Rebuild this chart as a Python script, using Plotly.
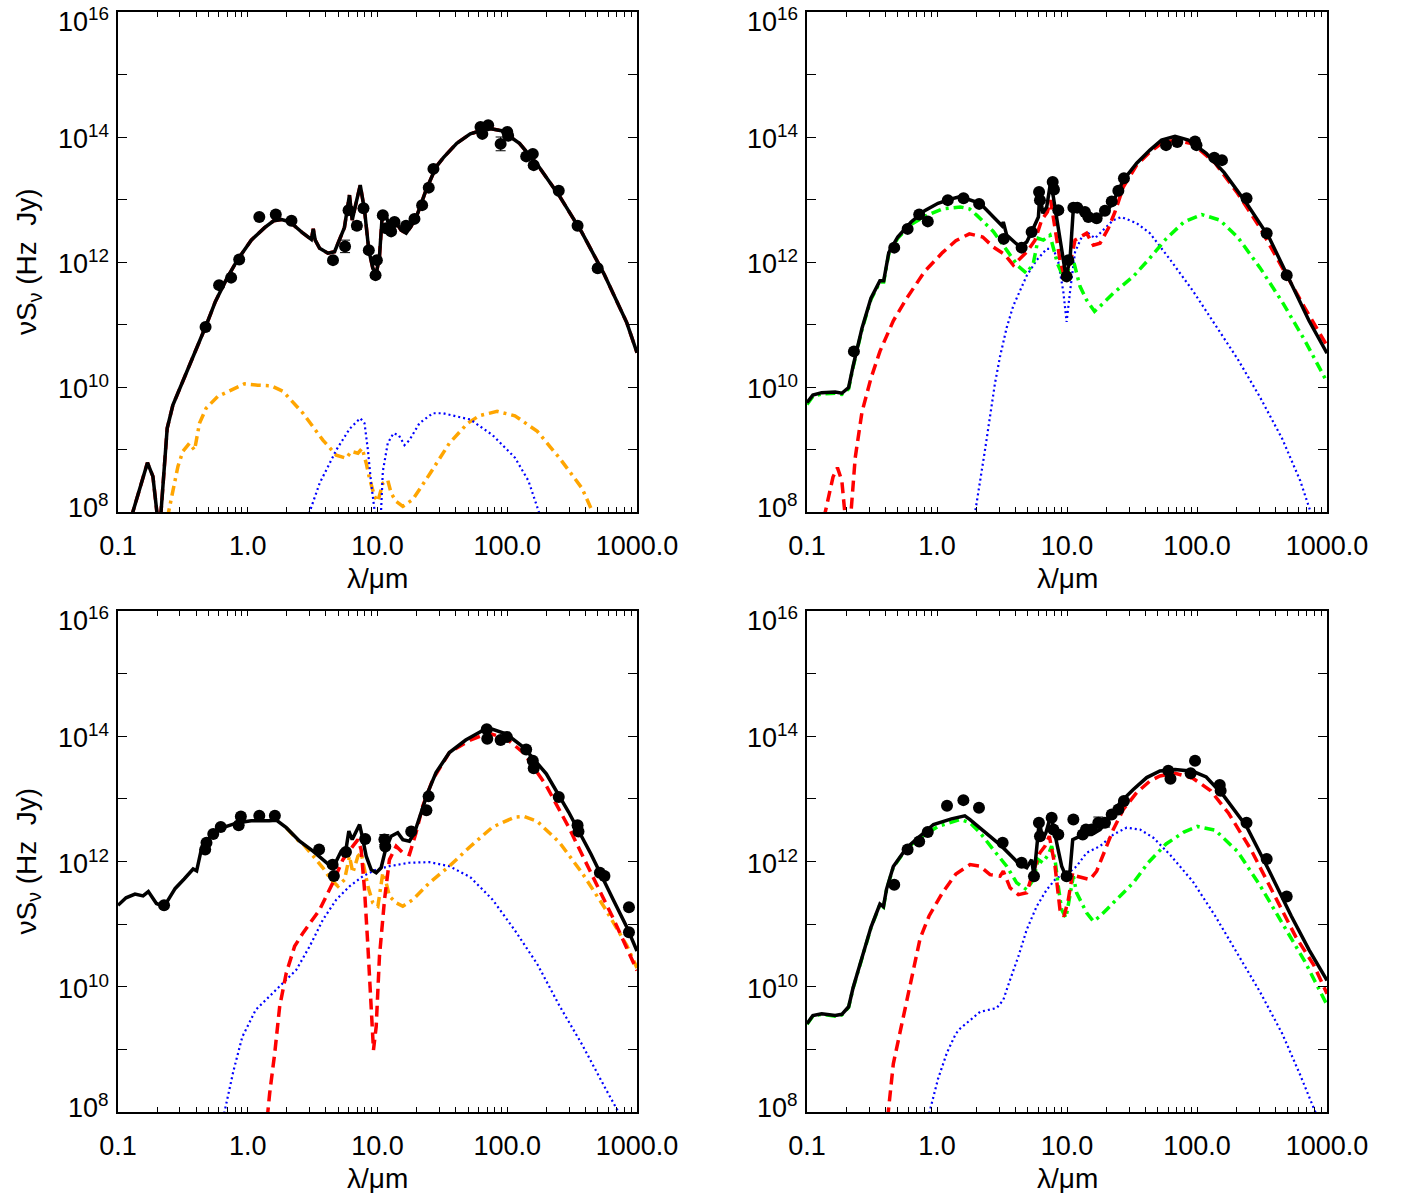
import numpy as np
import plotly.graph_objects as go

# ---------------- data: log10(lambda/um), log10(nu S_nu / Hz Jy) ----------------
# Panel A (top-left)
a_total_loglam = [-0.90, -0.773, -0.731, -0.695, -0.672, -0.621, -0.577, -0.538, -0.50, -0.456, -0.387, -0.318, -0.249, -0.163, -0.077, 0.027, 0.130, 0.20, 0.26, 0.323, 0.426, 0.490, 0.505, 0.520, 0.554, 0.618, 0.669, 0.708, 0.745, 0.784, 0.805, 0.831, 0.867, 0.900, 0.933, 0.964, 0.990, 1.015, 1.036, 1.067, 1.092, 1.131, 1.182, 1.221, 1.259, 1.310, 1.374, 1.451, 1.508, 1.611, 1.715, 1.853, 1.956, 2.094, 2.232, 2.404, 2.576, 2.748, 2.921, 3.0]
a_total_logsed = [7.9, 8.79, 8.57, 7.9, 7.9, 9.34, 9.71, 9.90, 10.11, 10.30, 10.67, 11.0, 11.37, 11.73, 12.04, 12.35, 12.55, 12.66, 12.68, 12.645, 12.46, 12.36, 12.53, 12.35, 12.22, 12.14, 12.165, 12.38, 12.55, 13.07, 12.67, 12.91, 13.23, 12.83, 12.19, 11.90, 11.81, 12.085, 12.725, 12.73, 12.57, 12.67, 12.51, 12.46, 12.57, 12.78, 13.15, 13.52, 13.67, 13.90, 14.05, 14.14, 14.10, 13.90, 13.56, 13.05, 12.47, 11.80, 11.03, 10.55]
a_red_loglam = list(a_total_loglam)
a_red_logsed = list(a_total_logsed)
a_orange_loglam = [-0.62, -0.577, -0.538, -0.50, -0.449, -0.41, -0.372, -0.321, -0.231, -0.128, -0.026, 0.077, 0.179, 0.272, 0.426, 0.579, 0.682, 0.759, 0.797, 0.849, 0.882, 0.913, 0.938, 0.977, 1.003, 1.041, 1.079, 1.105, 1.144, 1.195, 1.272, 1.400, 1.554, 1.695, 1.784, 1.922, 2.059, 2.232, 2.404, 2.576, 2.68]
a_orange_logsed = [7.9, 8.35, 8.73, 8.97, 9.10, 8.99, 9.42, 9.66, 9.85, 9.95, 10.05, 10.03, 10.02, 9.93, 9.58, 9.15, 8.91, 8.86, 8.97, 8.94, 9.02, 8.78, 8.54, 8.25, 8.17, 8.46, 8.51, 8.30, 8.17, 8.09, 8.20, 8.60, 9.10, 9.42, 9.54, 9.61, 9.54, 9.29, 8.86, 8.38, 7.9]
a_blue_loglam = [0.46, 0.554, 0.682, 0.785, 0.867, 0.900, 0.926, 0.951, 0.985, 1.025, 1.041, 1.079, 1.123, 1.164, 1.208, 1.246, 1.323, 1.426, 1.503, 1.605, 1.715, 1.887, 2.059, 2.163, 2.26]
a_blue_logsed = [7.9, 8.46, 8.99, 9.33, 9.50, 9.42, 8.99, 8.46, 7.9, 7.9, 8.65, 9.10, 9.26, 9.23, 9.07, 9.15, 9.42, 9.58, 9.58, 9.53, 9.48, 9.23, 8.87, 8.50, 7.9]
a_pts_loglam = [-0.325, -0.221, -0.128, -0.066, 0.089, 0.216, 0.337, 0.657, 0.750, 0.777, 0.841, 0.892, 0.933, 0.985, 0.995, 1.041, 1.067, 1.105, 1.131, 1.220, 1.285, 1.344, 1.395, 1.431, 1.794, 1.808, 1.853, 1.949, 2.000, 2.007, 2.146, 2.197, 2.204, 2.397, 2.542, 2.697]
a_pts_logsed = [10.96, 11.63, 11.75, 12.04, 12.72, 12.76, 12.66, 12.03, 12.25, 12.83, 12.58, 12.86, 12.19, 11.79, 12.03, 12.75, 12.54, 12.49, 12.64, 12.58, 12.69, 12.91, 13.19, 13.49, 14.16, 14.05, 14.19, 13.89, 14.08, 14.02, 13.69, 13.73, 13.55, 13.14, 12.58, 11.90]
a_pts_errdex = [0.03, 0.03, 0.03, 0.03, 0.03, 0.03, 0.03, 0.03, 0.10, 0.03, 0.06, 0.03, 0.03, 0.03, 0.03, 0.03, 0.03, 0.03, 0.03, 0.03, 0.03, 0.03, 0.03, 0.03, 0.03, 0.03, 0.03, 0.11, 0.03, 0.03, 0.03, 0.03, 0.03, 0.03, 0.03, 0.03]

# Panel B (top-right)
b_total_loglam = [-1.0, -0.955, -0.887, -0.783, -0.732, -0.680, -0.646, -0.577, -0.508, -0.439, -0.41, -0.371, -0.302, -0.199, -0.095, 0.008, 0.111, 0.177, 0.331, 0.459, 0.500, 0.510, 0.536, 0.638, 0.690, 0.728, 0.780, 0.792, 0.813, 0.844, 0.874, 0.895, 0.920, 0.959, 0.992, 1.023, 1.049, 1.100, 1.151, 1.228, 1.305, 1.356, 1.433, 1.536, 1.638, 1.727, 1.831, 1.934, 2.071, 2.209, 2.381, 2.553, 2.725, 2.862, 3.0]
b_total_logsed = [9.75, 9.87, 9.91, 9.92, 9.90, 9.99, 10.33, 10.94, 11.42, 11.70, 11.70, 12.15, 12.40, 12.64, 12.82, 12.94, 13.01, 13.045, 12.94, 12.67, 12.58, 12.64, 12.43, 12.24, 12.32, 12.48, 12.72, 13.12, 12.78, 12.88, 13.28, 13.04, 12.72, 12.19, 11.77, 12.03, 12.86, 12.86, 12.72, 12.70, 12.80, 12.97, 13.31, 13.58, 13.79, 13.95, 14.01, 13.95, 13.74, 13.43, 12.94, 12.40, 11.67, 11.06, 10.54]
b_red_loglam = [-0.87, -0.80, -0.766, -0.732, -0.705, -0.665, -0.629, -0.577, -0.508, -0.439, -0.336, -0.233, -0.095, 0.042, 0.145, 0.249, 0.352, 0.433, 0.52, 0.587, 0.690, 0.754, 0.805, 0.849, 0.874, 0.908, 0.946, 0.992, 1.036, 1.062, 1.100, 1.151, 1.203, 1.254, 1.318, 1.369, 1.433, 1.536, 1.638, 1.727, 1.831, 1.968, 2.140, 2.312, 2.484, 2.656, 2.828, 3.0]
b_red_logsed = [7.9, 8.56, 8.71, 8.50, 7.9, 7.9, 8.87, 9.60, 10.14, 10.57, 11.06, 11.42, 11.85, 12.15, 12.34, 12.45, 12.40, 12.24, 12.12, 11.95, 12.16, 12.35, 12.67, 12.80, 12.99, 12.55, 12.03, 11.68, 12.08, 12.35, 12.40, 12.46, 12.27, 12.30, 12.54, 12.80, 13.20, 13.55, 13.76, 13.90, 13.95, 13.89, 13.58, 13.10, 12.55, 11.91, 11.27, 10.66]
b_green_loglam = [-1.0, -0.955, -0.887, -0.783, -0.732, -0.680, -0.646, -0.577, -0.508, -0.439, -0.41, -0.371, -0.302, -0.199, -0.095, 0.042, 0.180, 0.249, 0.305, 0.433, 0.536, 0.626, 0.690, 0.741, 0.779, 0.818, 0.869, 0.895, 0.926, 0.959, 0.992, 1.018, 1.049, 1.074, 1.100, 1.151, 1.212, 1.254, 1.356, 1.510, 1.624, 1.762, 1.899, 2.037, 2.175, 2.312, 2.484, 2.656, 2.828, 3.0]
b_green_logsed = [9.72, 9.85, 9.89, 9.90, 9.88, 9.97, 10.31, 10.92, 11.40, 11.68, 11.68, 12.13, 12.38, 12.60, 12.73, 12.85, 12.88, 12.85, 12.75, 12.49, 12.19, 11.93, 11.82, 11.98, 12.38, 12.35, 12.43, 12.24, 11.98, 11.82, 11.68, 11.95, 12.03, 11.82, 11.61, 11.39, 11.21, 11.29, 11.50, 11.77, 12.03, 12.37, 12.64, 12.76, 12.67, 12.40, 11.91, 11.36, 10.75, 10.08]
b_blue_loglam = [0.29, 0.331, 0.369, 0.408, 0.446, 0.485, 0.536, 0.587, 0.638, 0.690, 0.767, 0.844, 0.895, 0.933, 0.972, 0.997, 1.023, 1.062, 1.113, 1.164, 1.215, 1.279, 1.356, 1.418, 1.536, 1.638, 1.796, 1.968, 2.140, 2.312, 2.484, 2.656, 2.794, 2.89]
b_blue_logsed = [7.95, 8.46, 8.99, 9.53, 10.06, 10.49, 10.95, 11.30, 11.55, 11.78, 12.03, 12.21, 12.21, 12.00, 11.52, 11.04, 11.52, 12.16, 12.40, 12.46, 12.38, 12.51, 12.67, 12.72, 12.62, 12.46, 12.03, 11.54, 11.0, 10.45, 9.84, 9.17, 8.50, 7.9]
b_pts_loglam = [-0.639, -0.329, -0.226, -0.137, -0.071, 0.083, 0.204, 0.324, 0.513, 0.651, 0.728, 0.785, 0.792, 0.890, 0.900, 0.933, 0.997, 1.010, 1.049, 1.079, 1.138, 1.164, 1.228, 1.292, 1.344, 1.395, 1.438, 1.762, 1.848, 1.985, 1.996, 2.133, 2.192, 2.381, 2.536, 2.690]
b_pts_logsed = [10.57, 12.23, 12.53, 12.76, 12.65, 12.99, 13.02, 12.93, 12.37, 12.23, 12.48, 13.12, 12.99, 13.28, 13.16, 12.83, 11.77, 12.03, 12.87, 12.87, 12.80, 12.72, 12.70, 12.82, 12.97, 13.14, 13.34, 13.87, 13.92, 13.93, 13.87, 13.67, 13.63, 13.02, 12.46, 11.79]
b_pts_errdex = [0.03, 0.03, 0.03, 0.03, 0.03, 0.03, 0.03, 0.03, 0.03, 0.03, 0.03, 0.03, 0.03, 0.03, 0.03, 0.03, 0.03, 0.03, 0.03, 0.03, 0.03, 0.03, 0.03, 0.03, 0.03, 0.03, 0.03, 0.03, 0.03, 0.03, 0.03, 0.03, 0.03, 0.03, 0.03, 0.03]

# Panel C (bottom-left)
c_total_loglam = [-1.0, -0.938, -0.869, -0.807, -0.766, -0.704, -0.645, -0.559, -0.490, -0.421, -0.394, -0.359, -0.283, -0.180, -0.077, 0.027, 0.165, 0.220, 0.297, 0.400, 0.503, 0.579, 0.631, 0.682, 0.720, 0.759, 0.779, 0.805, 0.831, 0.862, 0.882, 0.913, 0.951, 0.990, 1.028, 1.062, 1.105, 1.156, 1.195, 1.246, 1.285, 1.336, 1.387, 1.451, 1.554, 1.680, 1.818, 1.887, 1.990, 2.128, 2.301, 2.473, 2.645, 2.817, 2.920, 3.0]
c_total_logsed = [11.30, 11.42, 11.48, 11.45, 11.52, 11.33, 11.28, 11.57, 11.72, 11.88, 11.85, 12.18, 12.42, 12.55, 12.62, 12.65, 12.65, 12.66, 12.54, 12.325, 12.165, 12.03, 11.94, 12.005, 12.165, 12.22, 12.485, 12.35, 12.46, 12.59, 12.405, 12.085, 11.87, 11.82, 11.90, 12.19, 12.405, 12.46, 12.35, 12.325, 12.46, 12.78, 13.10, 13.42, 13.74, 13.94, 14.10, 14.11, 14.04, 13.82, 13.40, 12.79, 12.12, 11.39, 10.96, 10.57]
c_red_loglam = [0.150, 0.169, 0.208, 0.246, 0.297, 0.361, 0.426, 0.554, 0.656, 0.733, 0.810, 0.849, 0.874, 0.900, 0.926, 0.951, 0.969, 0.990, 1.015, 1.054, 1.092, 1.144, 1.195, 1.246, 1.297, 1.349, 1.426, 1.554, 1.715, 1.853, 1.990, 2.128, 2.301, 2.473, 2.645, 2.817, 3.0]
c_red_logsed = [7.9, 8.30, 8.94, 9.685, 10.22, 10.645, 10.86, 11.23, 11.66, 12.03, 12.245, 12.35, 12.19, 11.55, 10.645, 9.685, 8.99, 9.365, 10.485, 11.39, 12.03, 12.245, 12.14, 12.11, 12.46, 12.885, 13.31, 13.74, 13.94, 14.05, 13.97, 13.73, 13.21, 12.55, 11.82, 11.09, 10.26]
c_orange_loglam = [0.30, 0.40, 0.426, 0.503, 0.579, 0.643, 0.695, 0.746, 0.784, 0.810, 0.849, 0.874, 0.900, 0.926, 0.964, 1.003, 1.041, 1.067, 1.092, 1.144, 1.195, 1.272, 1.400, 1.554, 1.715, 1.887, 2.059, 2.128, 2.232, 2.404, 2.576, 2.748, 2.921, 3.0]
c_orange_logsed = [12.53, 12.31, 12.28, 12.085, 11.90, 11.71, 11.605, 11.71, 12.085, 11.82, 12.085, 12.14, 11.845, 11.605, 11.34, 11.285, 11.82, 11.66, 11.445, 11.34, 11.285, 11.39, 11.66, 11.925, 12.24, 12.55, 12.71, 12.72, 12.64, 12.30, 11.82, 11.27, 10.66, 10.30]
c_blue_loglam = [-0.19, -0.111, -0.042, 0.061, 0.169, 0.272, 0.374, 0.477, 0.579, 0.682, 0.785, 0.887, 0.990, 1.092, 1.246, 1.400, 1.554, 1.715, 1.887, 2.059, 2.232, 2.404, 2.576, 2.748, 2.87]
c_blue_logsed = [7.9, 8.65, 9.20, 9.63, 9.85, 10.06, 10.27, 10.645, 11.07, 11.39, 11.605, 11.765, 11.87, 11.925, 11.98, 11.99, 11.925, 11.75, 11.39, 10.90, 10.36, 9.69, 9.08, 8.41, 7.95]
c_pts_loglam = [-0.645, -0.328, -0.318, -0.266, -0.208, -0.070, -0.053, 0.089, 0.209, 0.550, 0.654, 0.664, 0.757, 0.905, 1.053, 1.060, 1.260, 1.377, 1.394, 1.842, 1.846, 1.949, 1.997, 2.146, 2.197, 2.204, 2.397, 2.542, 2.549, 2.714, 2.749, 2.938, 2.938]
c_pts_logsed = [11.30, 12.19, 12.30, 12.44, 12.55, 12.58, 12.72, 12.73, 12.73, 12.19, 11.95, 11.77, 12.15, 12.36, 12.35, 12.24, 12.48, 12.82, 13.04, 14.11, 13.96, 13.94, 13.99, 13.79, 13.61, 13.49, 13.03, 12.58, 12.48, 11.82, 11.77, 11.27, 10.87]
c_pts_errdex = [0.03, 0.03, 0.03, 0.03, 0.03, 0.03, 0.03, 0.03, 0.03, 0.03, 0.03, 0.03, 0.03, 0.03, 0.08, 0.03, 0.03, 0.03, 0.03, 0.03, 0.03, 0.03, 0.03, 0.03, 0.03, 0.03, 0.03, 0.03, 0.03, 0.03, 0.05, 0.03, 0.03]

# Panel D (bottom-right)
d_total_loglam = [-1.0, -0.955, -0.887, -0.783, -0.732, -0.680, -0.646, -0.611, -0.560, -0.508, -0.439, -0.412, -0.388, -0.336, -0.233, -0.130, -0.027, 0.111, 0.214, 0.254, 0.331, 0.408, 0.497, 0.574, 0.638, 0.690, 0.728, 0.746, 0.772, 0.787, 0.813, 0.838, 0.874, 0.895, 0.926, 0.959, 0.992, 1.023, 1.044, 1.074, 1.126, 1.190, 1.254, 1.331, 1.408, 1.510, 1.613, 1.715, 1.831, 1.968, 2.071, 2.209, 2.381, 2.553, 2.725, 2.862, 3.0]
d_total_logsed = [9.41, 9.54, 9.57, 9.54, 9.56, 9.68, 9.98, 10.22, 10.59, 10.95, 11.32, 11.28, 11.56, 11.92, 12.22, 12.41, 12.59, 12.68, 12.73, 12.67, 12.54, 12.405, 12.245, 12.085, 11.95, 11.90, 12.03, 11.765, 12.245, 12.645, 12.35, 12.46, 12.725, 12.565, 12.245, 11.925, 11.765, 11.845, 12.35, 12.38, 12.43, 12.43, 12.51, 12.70, 12.94, 13.15, 13.34, 13.445, 13.47, 13.44, 13.35, 13.04, 12.56, 11.86, 11.13, 10.59, 10.10]
d_red_loglam = [-0.38, -0.336, -0.267, -0.199, -0.130, -0.061, 0.042, 0.145, 0.254, 0.331, 0.408, 0.485, 0.510, 0.562, 0.626, 0.690, 0.741, 0.792, 0.831, 0.864, 0.908, 0.946, 0.977, 1.010, 1.044, 1.074, 1.126, 1.177, 1.228, 1.279, 1.356, 1.433, 1.536, 1.638, 1.715, 1.831, 1.968, 2.106, 2.243, 2.415, 2.587, 2.759, 2.897, 3.0]
d_red_logsed = [7.9, 8.77, 9.44, 10.10, 10.77, 11.13, 11.50, 11.80, 11.95, 11.925, 11.79, 11.765, 11.845, 11.58, 11.47, 11.50, 11.845, 12.14, 12.245, 12.405, 11.925, 11.23, 11.125, 11.39, 11.82, 11.765, 11.74, 11.71, 11.845, 12.11, 12.51, 12.83, 13.10, 13.285, 13.365, 13.41, 13.33, 13.13, 12.77, 12.19, 11.50, 10.80, 10.35, 9.89]
d_green_loglam = [-1.0, -0.955, -0.887, -0.783, -0.732, -0.680, -0.646, -0.611, -0.560, -0.508, -0.439, -0.412, -0.388, -0.336, -0.233, -0.130, 0.008, 0.111, 0.177, 0.254, 0.331, 0.433, 0.536, 0.613, 0.690, 0.741, 0.779, 0.813, 0.856, 0.882, 0.908, 0.933, 0.959, 0.992, 1.023, 1.049, 1.074, 1.113, 1.151, 1.203, 1.254, 1.356, 1.510, 1.624, 1.762, 1.899, 2.002, 2.140, 2.312, 2.484, 2.656, 2.828, 3.0]
d_green_logsed = [9.40, 9.53, 9.56, 9.53, 9.55, 9.67, 9.97, 10.21, 10.58, 10.94, 11.31, 11.27, 11.55, 11.91, 12.21, 12.38, 12.56, 12.62, 12.67, 12.62, 12.46, 12.19, 11.925, 11.66, 11.55, 11.71, 12.03, 11.98, 12.11, 12.245, 12.03, 11.605, 11.23, 11.10, 11.50, 11.765, 11.50, 11.34, 11.18, 11.045, 11.125, 11.34, 11.66, 11.98, 12.28, 12.47, 12.56, 12.50, 12.16, 11.62, 11.01, 10.41, 9.71]
d_blue_loglam = [-0.07, 0.008, 0.077, 0.145, 0.177, 0.254, 0.331, 0.459, 0.510, 0.562, 0.626, 0.690, 0.767, 0.844, 0.920, 0.997, 1.074, 1.151, 1.254, 1.356, 1.459, 1.562, 1.664, 1.796, 1.968, 2.140, 2.312, 2.484, 2.656, 2.794, 2.92]
d_blue_logsed = [7.9, 8.53, 8.95, 9.25, 9.33, 9.47, 9.60, 9.66, 9.79, 10.11, 10.485, 10.91, 11.285, 11.55, 11.74, 11.79, 11.925, 12.14, 12.245, 12.43, 12.54, 12.51, 12.38, 12.10, 11.68, 11.13, 10.53, 9.92, 9.25, 8.59, 7.95]
d_pts_loglam = [-0.329, -0.226, -0.137, -0.071, 0.077, 0.203, 0.323, 0.505, 0.651, 0.746, 0.784, 0.792, 0.882, 0.895, 0.933, 0.997, 1.049, 1.121, 1.146, 1.190, 1.241, 1.292, 1.344, 1.395, 1.438, 1.779, 1.796, 1.951, 1.985, 2.175, 2.182, 2.381, 2.536, 2.690]
d_pts_logsed = [11.63, 12.19, 12.32, 12.47, 12.89, 12.98, 12.86, 12.30, 11.98, 11.765, 12.62, 12.405, 12.70, 12.51, 12.43, 11.765, 12.67, 12.43, 12.51, 12.51, 12.62, 12.62, 12.75, 12.83, 12.965, 13.45, 13.32, 13.41, 13.61, 13.22, 13.13, 12.62, 12.04, 11.44]
d_pts_errdex = [0.03, 0.03, 0.03, 0.03, 0.03, 0.03, 0.03, 0.03, 0.03, 0.03, 0.03, 0.03, 0.03, 0.03, 0.03, 0.03, 0.03, 0.03, 0.03, 0.03, 0.09, 0.07, 0.03, 0.03, 0.03, 0.03, 0.03, 0.03, 0.03, 0.03, 0.03, 0.03, 0.03, 0.03]

# tick labels
x_tickvals = [0.1, 1, 10, 100, 1000]
x_ticktext = ["0.1", "1.0", "10.0", "100.0", "1000.0"]
y_tick_exponents = [8, 10, 12, 14, 16]
y_ticktext = ["10<sup>8</sup>", "10<sup>10</sup>", "10<sup>12</sup>", "10<sup>14</sup>", "10<sup>16</sup>"]

# ---------------- styling ----------------
W, H = 1402, 1193
FONT = "Liberation Sans"
TICKSIZE = 27
COL = {"red": "#ff0000", "green": "#00ff00", "orange": "#ffa500", "blue": "#0000ff"}
STYLE = {
    "red": dict(color=COL["red"], width=3.5, dash="11px,6px"),
    "green": dict(color=COL["green"], width=3.5, dash="10px,5px,3px,5px"),
    "orange": dict(color=COL["orange"], width=3.5, dash="10px,5px,3px,5px"),
    "blue": dict(color=COL["blue"], width=2.2, dash="2px,3px"),
}

px_left = [(118, 637), (807, 1327)]
px_top = [(12, 512), (611, 1112)]


def xdom(i):
    a, b = px_left[i]
    return [a / W, b / W]


def ydom(j):
    a, b = px_top[j]
    return [1 - b / H, 1 - a / H]


# all x tick positions (decades + 2..9 minor); labels only on decades
x_all_ticks = sorted(x_tickvals + [m * 10.0 ** e for e in range(-1, 3) for m in range(2, 10)])
x_all_text = [x_ticktext[x_tickvals.index(v)] if v in x_tickvals else "" for v in x_all_ticks]
y_all_ticks = [10.0 ** k for k in range(8, 17)]

panels = [
    dict(ax="", ov="5", col=0, row=0, total=(a_total_loglam, a_total_logsed),
         comps=[("red", a_red_loglam, a_red_logsed), ("orange", a_orange_loglam, a_orange_logsed),
                ("blue", a_blue_loglam, a_blue_logsed)],
         pts=(a_pts_loglam, a_pts_logsed, a_pts_errdex), ylab=True),
    dict(ax="2", ov="6", col=1, row=0, total=(b_total_loglam, b_total_logsed),
         comps=[("blue", b_blue_loglam, b_blue_logsed), ("green", b_green_loglam, b_green_logsed),
                ("red", b_red_loglam, b_red_logsed)],
         pts=(b_pts_loglam, b_pts_logsed, b_pts_errdex), ylab=False),
    dict(ax="3", ov="7", col=0, row=1, total=(c_total_loglam, c_total_logsed),
         comps=[("blue", c_blue_loglam, c_blue_logsed), ("orange", c_orange_loglam, c_orange_logsed),
                ("red", c_red_loglam, c_red_logsed)],
         pts=(c_pts_loglam, c_pts_logsed, c_pts_errdex), ylab=True),
    dict(ax="4", ov="8", col=1, row=1, total=(d_total_loglam, d_total_logsed),
         comps=[("blue", d_blue_loglam, d_blue_logsed), ("green", d_green_loglam, d_green_logsed),
                ("red", d_red_loglam, d_red_logsed)],
         pts=(d_pts_loglam, d_pts_logsed, d_pts_errdex), ylab=False),
]

fig = go.Figure()
layout = dict(width=W, height=H, margin=dict(l=0, r=0, t=0, b=0, autoexpand=False),
              paper_bgcolor="white", plot_bgcolor="white", showlegend=False,
              font=dict(family=FONT, color="black", size=TICKSIZE))
annotations = []

for p in panels:
    xa, ya = "x" + p["ax"], "y" + p["ax"]
    for name, ll, ls in p["comps"]:
        fig.add_trace(go.Scatter(x=10 ** np.array(ll), y=10 ** np.array(ls), mode="lines",
                                 line=STYLE[name], xaxis=xa, yaxis=ya, hoverinfo="skip"))
    tl, ts = p["total"]
    fig.add_trace(go.Scatter(x=10 ** np.array(tl), y=10 ** np.array(ts), mode="lines",
                             line=dict(color="black", width=3.5), xaxis=xa, yaxis=ya))
    pl, ps, pe = p["pts"]
    yv = 10 ** np.array(ps)
    e = np.array(pe)
    fig.add_trace(go.Scatter(x=10 ** np.array(pl), y=yv, mode="markers",
                             marker=dict(color="black", size=12, symbol="circle"),
                             error_y=dict(type="data", symmetric=False, array=yv * (10 ** e - 1),
                                          arrayminus=yv * (1 - 10 ** (-e)), color="black",
                                          thickness=1, width=5),
                             xaxis=xa, yaxis=ya))

    axis_common = dict(showline=True, linecolor="black", linewidth=1.6, mirror="ticks",
                       ticks="inside", tickcolor="black", tickwidth=1.4, showgrid=False,
                       zeroline=False, automargin=False,
                       tickfont=dict(family=FONT, size=TICKSIZE, color="black"))
    # main x axis: minor-length ticks everywhere, labels on decades
    layout["xaxis" + p["ax"]] = dict(axis_common, type="log", range=[-1, 3], domain=xdom(p["col"]),
                                     anchor=ya, tickmode="array", tickvals=x_all_ticks,
                                     ticktext=x_all_text, ticklen=5, ticklabelstandoff=9)
    # overlay x axis: long major ticks on decades
    layout["xaxis" + p["ov"]] = dict(axis_common, type="log", range=[-1, 3], domain=xdom(p["col"]),
                                     anchor=ya, overlaying=xa, side="bottom", tickmode="array",
                                     tickvals=x_tickvals, ticklen=10, showticklabels=False)
    layout["yaxis" + p["ax"]] = dict(axis_common, type="log", range=[8, 16], domain=ydom(p["row"]),
                                     anchor=xa, tickmode="array", tickvals=y_all_ticks,
                                     showticklabels=False, ticklen=9)
    # y tick labels as annotations positioned through the y axis (top/bottom nudged inward)
    for k, txt in zip(y_tick_exponents, y_ticktext):
        shift = -8 if k == 16 else (6 if k == 8 else 0)
        annotations.append(dict(text=txt, xref=xa + " domain", x=0, xanchor="right", xshift=-7,
                                yref=ya, y=k, yanchor="middle", yshift=shift, showarrow=False,
                                font=dict(family=FONT, size=TICKSIZE, color="black")))
    a, b = px_left[p["col"]]
    t, bt = px_top[p["row"]]
    annotations.append(dict(text="λ/μm", x=(a + b) / 2 / W, y=1 - (bt + 66) / H, xref="paper",
                            yref="paper", showarrow=False, xanchor="center", yanchor="middle",
                            font=dict(family=FONT, size=28, color="black")))
    if p["ylab"]:
        annotations.append(dict(text="νS<sub>ν</sub> (Hz  Jy)", x=28 / W, y=1 - (t + bt) / 2 / H,
                                xref="paper", yref="paper", showarrow=False, textangle=-90,
                                xanchor="center", yanchor="middle",
                                font=dict(family=FONT, size=28, color="black")))

layout["annotations"] = annotations
fig.update_layout(**layout)
fig.write_html("out.html")
